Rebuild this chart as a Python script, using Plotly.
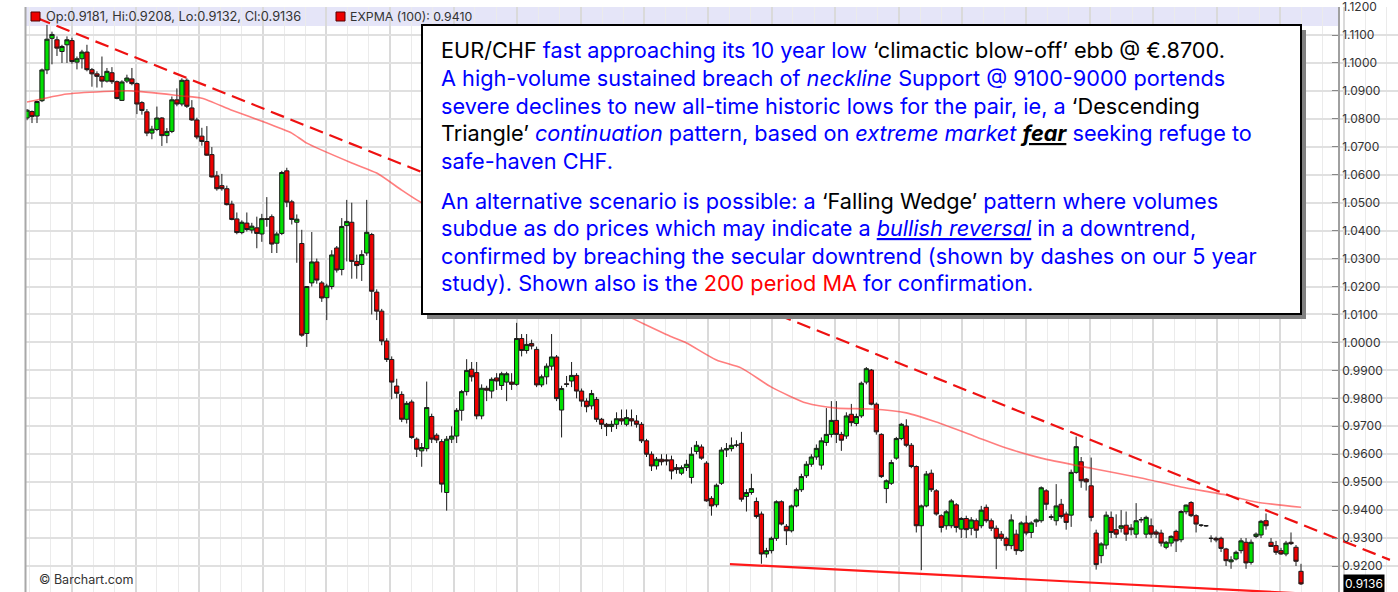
import plotly.graph_objects as go

# ---------------- data (weekly EUR/CHF candles) ----------------
opens = [
    1.0803, 1.0826, 1.0810, 1.0865, 1.0975, 1.1088, 1.1083, 1.1041, 1.1065, 1.1080,
    1.1003, 1.1015, 1.1039, 1.0976, 1.0961, 1.0952, 1.0935, 1.0965, 1.0933, 1.0866,
    1.0935, 1.0943, 1.0926, 1.0858, 1.0825, 1.0749, 1.0762, 1.0803, 1.0740, 1.0755,
    1.0868, 1.0853, 1.0938, 1.0839, 1.0796, 1.0738, 1.0719, 1.0672, 1.0596, 1.0561,
    1.0550, 1.0495, 1.0442, 1.0393, 1.0427, 1.0402, 1.0410, 1.0388, 1.0443, 1.0450,
    1.0355, 1.0390, 1.0614, 1.0503, 1.0430, 1.0354, 1.0032, 1.0213, 1.0288, 1.0213,
    1.0160, 1.0200, 1.0338, 1.0261, 1.0418, 1.0430, 1.0290, 1.0279, 1.0320, 1.0386,
    1.0180, 1.0112, 1.0005, 0.9939, 0.9844, 0.9814, 0.9725, 0.9787, 0.9654, 0.9612,
    0.9620, 0.9735, 0.9668, 0.9645, 0.9463, 0.9654, 0.9665, 0.9757, 0.9824, 0.9904,
    0.9892, 0.9737, 0.9836, 0.9826, 0.9873, 0.9846, 0.9858, 0.9858, 0.9850, 1.0014,
    0.9971, 0.9996, 0.9975, 0.9848, 0.9877, 0.9915, 0.9948, 0.9758, 0.9852, 0.9862,
    0.9882, 0.9826, 0.9790, 0.9773, 0.9796, 0.9725, 0.9707, 0.9699, 0.9707, 0.9727,
    0.9707, 0.9727, 0.9719, 0.9707, 0.9648, 0.9600, 0.9558, 0.9582, 0.9580, 0.9580,
    0.9552, 0.9532, 0.9552, 0.9517, 0.9610, 0.9626, 0.9568, 0.9442, 0.9419, 0.9496,
    0.9615, 0.9620, 0.9632, 0.9639, 0.9449, 0.9463, 0.9431, 0.9386, 0.9243, 0.9255,
    0.9299, 0.9430, 0.9342, 0.9326, 0.9415, 0.9473, 0.9523, 0.9564, 0.9590, 0.9561,
    0.9642, 0.9671, 0.9721, 0.9671, 0.9665, 0.9743, 0.9710, 0.9737, 0.9858, 0.9901,
    0.9779, 0.9671, 0.9477, 0.9496, 0.9586, 0.9656, 0.9701, 0.9632, 0.9556, 0.9344,
    0.9415, 0.9532, 0.9469, 0.9380, 0.9344, 0.9344, 0.9419, 0.9332, 0.9370, 0.9335,
    0.9362, 0.9344, 0.9410, 0.9362, 0.9335, 0.9314, 0.9299, 0.9273, 0.9314, 0.9255,
    0.9354, 0.9320, 0.9358, 0.9362, 0.9469, 0.9374, 0.9362, 0.9421, 0.9386, 0.9382,
    0.9535, 0.9573, 0.9511, 0.9487, 0.9318, 0.9237, 0.9275, 0.9374, 0.9330, 0.9335,
    0.9346, 0.9336, 0.9314, 0.9365, 0.9314, 0.9344, 0.9322, 0.9318, 0.9267, 0.9282,
    0.9324, 0.9294, 0.9394, 0.9427, 0.9380, 0.9346, 0.9344, 0.9299, 0.9299, 0.9299,
    0.9261, 0.9215, 0.9225, 0.9255, 0.9285, 0.9213, 0.9306, 0.9311, 0.9362, 0.9285,
    0.9273, 0.9255, 0.9243, 0.9285, 0.9267, 0.9181,
]
highs = [
    1.0835, 1.0830, 1.0865, 1.0980, 1.1136, 1.1112, 1.1095, 1.1065, 1.1095, 1.1090,
    1.1023, 1.1047, 1.1065, 1.0982, 1.0970, 1.1023, 1.0982, 1.0985, 1.0937, 1.0938,
    1.0958, 1.0982, 1.0930, 1.0863, 1.0835, 1.0775, 1.0844, 1.0806, 1.0767, 1.0880,
    1.0909, 1.0945, 1.0945, 1.0867, 1.0804, 1.0768, 1.0774, 1.0699, 1.0613, 1.0603,
    1.0561, 1.0507, 1.0465, 1.0437, 1.0465, 1.0428, 1.0450, 1.0460, 1.0520, 1.0458,
    1.0396, 1.0614, 1.0625, 1.0510, 1.0458, 1.0403, 1.0202, 1.0395, 1.0300, 1.0220,
    1.0210, 1.0330, 1.0345, 1.0445, 1.0510, 1.0500, 1.0314, 1.0330, 1.0510, 1.0392,
    1.0190, 1.0120, 1.0015, 0.9950, 0.9870, 0.9825, 0.9790, 0.9795, 0.9660, 0.9640,
    0.9860, 0.9745, 0.9675, 0.9654, 0.9665, 0.9700, 0.9765, 0.9830, 0.9940, 0.9930,
    0.9930, 0.9850, 0.9845, 0.9875, 0.9890, 0.9895, 0.9895, 0.9890, 1.0070, 1.0030,
    1.0030, 1.0010, 0.9985, 0.9885, 0.9925, 1.0030, 0.9955, 0.9845, 0.9880, 0.9930,
    0.9890, 0.9835, 0.9800, 0.9830, 0.9805, 0.9730, 0.9712, 0.9720, 0.9750, 0.9760,
    0.9760, 0.9760, 0.9740, 0.9715, 0.9655, 0.9610, 0.9590, 0.9600, 0.9600, 0.9595,
    0.9565, 0.9560, 0.9580, 0.9625, 0.9647, 0.9635, 0.9575, 0.9450, 0.9495, 0.9625,
    0.9640, 0.9660, 0.9650, 0.9680, 0.9475, 0.9530, 0.9445, 0.9395, 0.9265, 0.9305,
    0.9435, 0.9435, 0.9350, 0.9420, 0.9480, 0.9530, 0.9575, 0.9600, 0.9635, 0.9660,
    0.9765, 0.9790, 0.9790, 0.9680, 0.9750, 0.9780, 0.9745, 0.9860, 0.9912, 0.9905,
    0.9785, 0.9675, 0.9510, 0.9580, 0.9662, 0.9712, 0.9725, 0.9640, 0.9560, 0.9420,
    0.9540, 0.9545, 0.9475, 0.9385, 0.9400, 0.9440, 0.9425, 0.9375, 0.9380, 0.9375,
    0.9370, 0.9415, 0.9420, 0.9370, 0.9345, 0.9325, 0.9305, 0.9385, 0.9330, 0.9360,
    0.9380, 0.9360, 0.9370, 0.9485, 0.9475, 0.9385, 0.9493, 0.9440, 0.9395, 0.9545,
    0.9663, 0.9590, 0.9515, 0.9588, 0.9330, 0.9285, 0.9395, 0.9395, 0.9385, 0.9400,
    0.9395, 0.9350, 0.9425, 0.9375, 0.9380, 0.9370, 0.9330, 0.9330, 0.9290, 0.9310,
    0.9330, 0.9400, 0.9420, 0.9432, 0.9385, 0.9350, 0.9346, 0.9310, 0.9305, 0.9305,
    0.9265, 0.9235, 0.9255, 0.9300, 0.9300, 0.9295, 0.9320, 0.9365, 0.9388, 0.9300,
    0.9290, 0.9265, 0.9290, 0.9320, 0.9275, 0.9208,
]
lows = [
    1.0795, 1.0785, 1.0785, 1.0860, 1.0960, 1.0995, 1.1025, 1.1000, 1.1000, 1.0997,
    1.0977, 1.0980, 1.0970, 1.0915, 1.0912, 1.0912, 1.0930, 1.0925, 1.0870, 1.0864,
    1.0928, 1.0920, 1.0817, 1.0815, 1.0738, 1.0727, 1.0756, 1.0703, 1.0713, 1.0749,
    1.0845, 1.0845, 1.0839, 1.0793, 1.0727, 1.0704, 1.0668, 1.0590, 1.0543, 1.0543,
    1.0490, 1.0437, 1.0387, 1.0387, 1.0397, 1.0390, 1.0337, 1.0360, 1.0414, 1.0320,
    1.0320, 1.0384, 1.0484, 1.0422, 1.0285, 1.0020, 0.9984, 1.0200, 1.0210, 1.0145,
    1.0080, 1.0190, 1.0250, 1.0240, 1.0290, 1.0228, 1.0228, 1.0220, 1.0310, 1.0100,
    1.0080, 0.9990, 0.9930, 0.9797, 0.9800, 0.9715, 0.9710, 0.9655, 0.9590, 0.9555,
    0.9610, 0.9640, 0.9640, 0.9463, 0.9398, 0.9640, 0.9640, 0.9720, 0.9810, 0.9860,
    0.9725, 0.9725, 0.9790, 0.9800, 0.9830, 0.9830, 0.9790, 0.9830, 0.9845, 0.9950,
    0.9960, 0.9975, 0.9840, 0.9840, 0.9850, 0.9900, 0.9790, 0.9660, 0.9840, 0.9840,
    0.9800, 0.9770, 0.9750, 0.9760, 0.9715, 0.9690, 0.9665, 0.9680, 0.9690, 0.9705,
    0.9700, 0.9700, 0.9695, 0.9640, 0.9590, 0.9540, 0.9545, 0.9560, 0.9560, 0.9510,
    0.9530, 0.9525, 0.9540, 0.9495, 0.9600, 0.9580, 0.9430, 0.9380, 0.9410, 0.9490,
    0.9590, 0.9610, 0.9625, 0.9430, 0.9395, 0.9455, 0.9370, 0.9208, 0.9230, 0.9245,
    0.9290, 0.9345, 0.9275, 0.9320, 0.9410, 0.9465, 0.9515, 0.9555, 0.9580, 0.9545,
    0.9630, 0.9660, 0.9640, 0.9612, 0.9655, 0.9700, 0.9700, 0.9730, 0.9850, 0.9775,
    0.9670, 0.9515, 0.9425, 0.9490, 0.9580, 0.9650, 0.9625, 0.9550, 0.9320, 0.9185,
    0.9410, 0.9465, 0.9380, 0.9320, 0.9330, 0.9335, 0.9320, 0.9300, 0.9300, 0.9310,
    0.9300, 0.9335, 0.9355, 0.9325, 0.9189, 0.9290, 0.9255, 0.9260, 0.9240, 0.9250,
    0.9310, 0.9300, 0.9340, 0.9355, 0.9400, 0.9365, 0.9345, 0.9370, 0.9330, 0.9340,
    0.9530, 0.9480, 0.9470, 0.9360, 0.9187, 0.9210, 0.9260, 0.9300, 0.9300, 0.9320,
    0.9290, 0.9310, 0.9300, 0.9355, 0.9300, 0.9300, 0.9300, 0.9270, 0.9260, 0.9270,
    0.9250, 0.9285, 0.9385, 0.9375, 0.9320, 0.9340, 0.9340, 0.9285, 0.9285, 0.9250,
    0.9200, 0.9190, 0.9220, 0.9245, 0.9190, 0.9205, 0.9300, 0.9300, 0.9330, 0.9270,
    0.9240, 0.9240, 0.9235, 0.9275, 0.9200, 0.9132,
]
closes = [
    1.0831, 1.0808, 1.0862, 1.0975, 1.1085, 1.1102, 1.1053, 1.1059, 1.1083, 1.1005,
    1.1015, 1.1039, 1.0976, 1.0961, 1.0952, 1.0935, 1.0970, 1.0933, 1.0873, 1.0932,
    1.0946, 1.0926, 1.0853, 1.0830, 1.0749, 1.0763, 1.0803, 1.0740, 1.0755, 1.0868,
    1.0853, 1.0938, 1.0845, 1.0796, 1.0735, 1.0719, 1.0670, 1.0592, 1.0550, 1.0550,
    1.0493, 1.0440, 1.0393, 1.0430, 1.0404, 1.0416, 1.0390, 1.0443, 1.0440, 1.0352,
    1.0388, 1.0608, 1.0502, 1.0440, 1.0441, 1.0026, 1.0200, 1.0288, 1.0223, 1.0159,
    1.0202, 1.0313, 1.0259, 1.0415, 1.0433, 1.0290, 1.0275, 1.0314, 1.0394, 1.0183,
    1.0112, 1.0005, 0.9939, 0.9858, 0.9818, 0.9725, 0.9782, 0.9660, 0.9618, 0.9624,
    0.9767, 0.9654, 0.9651, 0.9493, 0.9654, 0.9665, 0.9757, 0.9824, 0.9900, 0.9877,
    0.9737, 0.9836, 0.9829, 0.9868, 0.9862, 0.9888, 0.9888, 0.9850, 1.0014, 0.9971,
    0.9993, 0.9987, 0.9848, 0.9877, 0.9915, 0.9948, 0.9799, 0.9835, 0.9850, 0.9882,
    0.9826, 0.9790, 0.9770, 0.9817, 0.9725, 0.9707, 0.9699, 0.9707, 0.9727, 0.9719,
    0.9731, 0.9719, 0.9707, 0.9648, 0.9600, 0.9558, 0.9582, 0.9573, 0.9576, 0.9540,
    0.9545, 0.9552, 0.9564, 0.9600, 0.9632, 0.9586, 0.9433, 0.9415, 0.9489, 0.9615,
    0.9620, 0.9632, 0.9633, 0.9439, 0.9463, 0.9477, 0.9377, 0.9243, 0.9255, 0.9299,
    0.9430, 0.9350, 0.9326, 0.9415, 0.9473, 0.9520, 0.9564, 0.9590, 0.9621, 0.9648,
    0.9671, 0.9721, 0.9671, 0.9650, 0.9737, 0.9713, 0.9735, 0.9854, 0.9906, 0.9779,
    0.9680, 0.9520, 0.9505, 0.9570, 0.9656, 0.9707, 0.9632, 0.9556, 0.9344, 0.9415,
    0.9529, 0.9473, 0.9386, 0.9338, 0.9394, 0.9433, 0.9338, 0.9370, 0.9330, 0.9365,
    0.9328, 0.9400, 0.9362, 0.9335, 0.9299, 0.9299, 0.9273, 0.9365, 0.9255, 0.9354,
    0.9318, 0.9354, 0.9365, 0.9480, 0.9421, 0.9376, 0.9415, 0.9377, 0.9356, 0.9535,
    0.9627, 0.9505, 0.9501, 0.9374, 0.9205, 0.9279, 0.9382, 0.9320, 0.9314, 0.9344,
    0.9314, 0.9330, 0.9362, 0.9366, 0.9374, 0.9314, 0.9314, 0.9282, 0.9285, 0.9306,
    0.9290, 0.9395, 0.9418, 0.9380, 0.9350, 0.9346, 0.9344, 0.9299, 0.9293, 0.9263,
    0.9219, 0.9222, 0.9249, 0.9290, 0.9211, 0.9285, 0.9314, 0.9360, 0.9344, 0.9270,
    0.9249, 0.9243, 0.9282, 0.9280, 0.9217, 0.9136,
]

# 100-period exponential moving average, sampled at candle indices
ema_idx = [0, 8, 17, 21, 31, 35, 41, 48, 53, 56, 65, 70, 75, 78, 89, 99, 111, 121, 129, 132,
           138, 143, 149, 156, 162, 169, 176, 182, 190, 196, 203, 213, 223, 231, 240, 246, 255]
ema_val = [1.0860, 1.0889, 1.0899, 1.0900, 1.0882, 1.0874, 1.0831, 1.0785, 1.0749, 1.0713,
           1.0642, 1.0606, 1.0545, 1.0510, 1.0400, 1.0290, 1.0170, 1.0087, 1.0020, 0.9998,
           0.9937, 0.9908, 0.9840, 0.9783, 0.9765, 0.9762, 0.9748, 0.9715, 0.9662, 0.9622,
           0.9586, 0.9550, 0.9515, 0.9483, 0.9454, 0.9429, 0.9410]

# trend lines (candle index, price)
down_idx = [2.0, 272.8]
down_val = [1.1161, 0.9222]
sup_idx = [140.7, 262.6]
sup_val = [0.9207, 0.9095]

y_ticks = [round(0.92 + 0.01 * k, 2) for k in range(21)]

# ---------------- geometry helpers ----------------
W, H = 1398, 592
LM, TM = 25, 7
PW, PH = W - LM, H - TM


def fx(px):
    return (px - LM) / PW


def fy(py):
    return 1 - (py - TM) / PH


N = len(closes)
X0_PX, X_STEP = 27.0, 1274.0 / (N - 1)


def ix(px):
    return (px - X0_PX) / X_STEP


idx = list(range(N))

UI_FONT = "Inter, Open Sans, Arial, sans-serif"
TXT_FONT = "Inter, Arial, sans-serif"
BLUE, BLACK, RED = "#0000ff", "#000000", "#ff0000"

fig = go.Figure()
fig.add_trace(go.Candlestick(
    x=idx, open=opens, high=highs, low=lows, close=closes,
    increasing=dict(fillcolor="#00e000", line=dict(color="#1a1a1a", width=1)),
    decreasing=dict(fillcolor="#ee0000", line=dict(color="#1a1a1a", width=1)),
    whiskerwidth=0, showlegend=False, hoverinfo="skip"))
fig.add_trace(go.Scatter(
    x=ema_idx, y=ema_val, mode="lines", hoverinfo="skip", showlegend=False,
    line=dict(color="rgba(255,40,40,0.6)", width=1.6, shape="spline", smoothing=0.6)))
fig.add_trace(go.Scatter(
    x=down_idx, y=down_val, mode="lines", hoverinfo="skip", showlegend=False,
    line=dict(color="#ee1111", width=2.2, dash="14px,7px")))
fig.add_trace(go.Scatter(
    x=sup_idx, y=sup_val, mode="lines", hoverinfo="skip", showlegend=False,
    line=dict(color="#ff1a1a", width=2.2)))

shapes = [
    # hide grid to the right of the price axis
    dict(type="rect", xref="paper", yref="paper", x0=fx(1340), x1=1.0, y0=0, y1=1.0,
         fillcolor="white", line=dict(width=0), layer="between"),
    # legend band
    dict(type="rect", xref="paper", yref="paper", x0=fx(25), x1=fx(1339), y0=fy(26), y1=fy(7),
         fillcolor="#e5e5f8", line=dict(width=0), layer="between"),
    # left border
    dict(type="line", xref="paper", yref="paper", x0=fx(25.5), x1=fx(25.5), y0=0, y1=fy(7),
         line=dict(color="#a8a8a8", width=2), layer="above"),
    # legend squares
    dict(type="rect", xref="paper", yref="paper", x0=fx(31), x1=fx(40), y0=fy(21), y1=fy(12),
         fillcolor="#ee0000", line=dict(color="#550000", width=1), layer="above"),
    dict(type="rect", xref="paper", yref="paper", x0=fx(336), x1=fx(345), y0=fy(21), y1=fy(12),
         fillcolor="#ee0000", line=dict(color="#550000", width=1), layer="above"),
    # text box shadow and box
    dict(type="rect", xref="paper", yref="paper", x0=fx(427), x1=fx(1306), y0=fy(319), y1=fy(30),
         fillcolor="#808080", line=dict(width=0), layer="above"),
    dict(type="rect", xref="paper", yref="paper", x0=fx(422), x1=fx(1301), y0=fy(314), y1=fy(25),
         fillcolor="white", line=dict(color="black", width=2), layer="above"),
]


def col(t, c):
    return f"<span style='color:{c}'>{t}</span>"


box_lines = [
    col("EUR/CHF", BLACK) + " fast approaching its 10 year low " + col("‘climactic blow-off’ ebb @ €.8700.", BLACK),
    "A high-volume sustained breach of <i>neckline</i> Support @ 9100-9000 portends",
    "severe declines to new all-time historic lows for the pair, ie, a " + col("‘Descending", BLACK),
    col("Triangle’", BLACK) + " <i>continuation</i> pattern, based on <i>extreme market</i> "
    + col("<b><i><u>fear</u></i></b>", BLACK) + " seeking refuge to",
    "safe-haven CHF.",
    "An alternative scenario is possible: a " + col("‘Falling Wedge’", BLACK) + " pattern where volumes",
    "subdue as do prices which may indicate a <i><u>bullish reversal</u></i> in a downtrend,",
    "confirmed by breaching the secular downtrend (shown by dashes on our 5 year",
    "study). Shown also is the " + col("200 period MA", RED) + " for confirmation.",
]
box_line_y = [50, 77.5, 105.5, 133, 161, 201, 228, 256, 283]

annotations = [
    dict(xref="paper", yref="paper", x=fx(45), y=fy(16.5), xanchor="left", yanchor="middle",
         showarrow=False, borderpad=0,
         text=f"Op:{opens[-1]:.4f}, Hi:{highs[-1]:.4f}, Lo:{lows[-1]:.4f}, Cl:{closes[-1]:.4f}",
         font=dict(family=UI_FONT, size=12.8, color="#333333")),
    dict(xref="paper", yref="paper", x=fx(349), y=fy(16.5), xanchor="left", yanchor="middle",
         showarrow=False, borderpad=0, text=f"EXPMA (100): {ema_val[-1]:.4f}",
         font=dict(family=UI_FONT, size=12.3, color="#333333")),
    dict(xref="paper", yref="paper", x=fx(38), y=fy(579), xanchor="left", yanchor="middle",
         showarrow=False, borderpad=0, text="© Barchart.com",
         font=dict(family=UI_FONT, size=12.5, color="#333333")),
    dict(xref="paper", yref="y", x=fx(1343), y=closes[-1], xanchor="left", yanchor="middle",
         showarrow=False, borderpad=1, bgcolor="black", text=f"{closes[-1]:.4f}",
         font=dict(family=UI_FONT, size=12, color="white")),
]
for line_text, ly in zip(box_lines, box_line_y):
    annotations.append(dict(xref="paper", yref="paper", x=fx(440), y=fy(ly), xanchor="left",
                            yanchor="middle", showarrow=False, borderpad=0, align="left",
                            text=line_text, font=dict(family=TXT_FONT, size=21.7, color=BLUE)))

major_dt = 63.6 / X_STEP
fig.update_layout(
    width=W, height=H, margin=dict(l=LM, r=0, t=TM, b=0, pad=0),
    paper_bgcolor="white", plot_bgcolor="white", showlegend=False,
    boxgap=0.15, boxgroupgap=0.0,
    xaxis=dict(range=[ix(LM), ix(W)], showticklabels=False, ticks="", showline=False,
               zeroline=False, rangeslider=dict(visible=False), showgrid=True,
               gridcolor="#dadada", gridwidth=1.6, tickmode="linear", tick0=ix(72), dtick=major_dt,
               minor=dict(showgrid=True, gridcolor="#ebebeb", gridwidth=1,
                          tickmode="linear", tick0=ix(72), dtick=major_dt / 3)),
    yaxis=dict(range=[0.9107, 1.12002], anchor="free", position=fx(1339), side="right",
               tickmode="array", tickvals=y_ticks, tickformat=".4f", ticklabeloverflow="allow",
               ticks="inside", ticklen=6, tickcolor="#888888", tickwidth=1,
               showline=True, linecolor="#a0a0a0", linewidth=1.5,
               showgrid=True, gridcolor="#e0e0e0", gridwidth=1.5, zeroline=False,
               tickfont=dict(family=UI_FONT, size=12, color="#333333")),
    shapes=shapes, annotations=annotations,
)

fig.write_html("out.html", config={"displayModeBar": False},
               post_script="document.body.style.margin='0px';")
